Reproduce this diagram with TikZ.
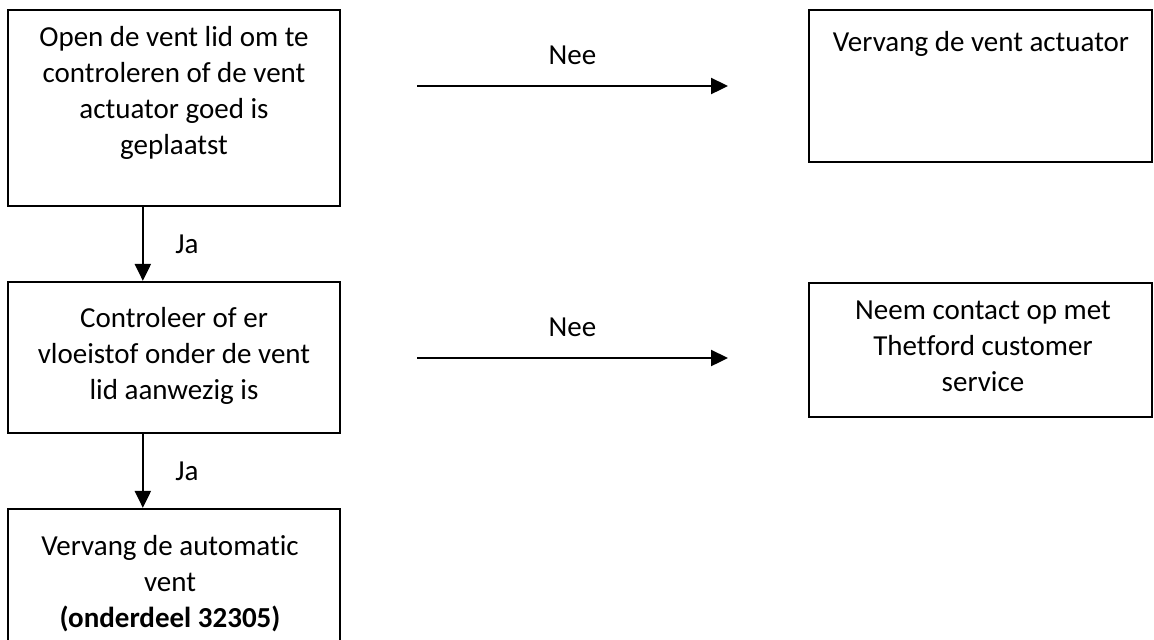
\documentclass[tikz,border=0pt]{standalone}
\usepackage{fontspec}
\setmainfont{Carlito}[Ligatures=NoCommon]
\usepackage{tikz}
\usetikzlibrary{arrows.meta}
\definecolor{ink}{HTML}{000000}
\tikzset{
  box/.style={draw=ink, line width=1.15pt, rectangle, inner sep=0pt},
  arr/.style={draw=ink, line width=1.15pt, -{Triangle[length=8.5pt,width=8pt]}},
  txt/.style={text=ink, align=center, inner sep=0pt, font=\fontsize{14.5}{18}\selectfont},
  lab/.style={text=ink, inner sep=0pt, font=\fontsize{14.5}{18}\selectfont},
}

\begin{document}
\begin{tikzpicture}[x=0.5pt,y=-0.5pt]
  \useasboundingbox (0,0) rectangle (1154,639);
  \clip (0,0) rectangle (1154,639);
  \node[box,minimum width=166pt,minimum height=98pt] (open) at (174,108) {};
  \node[box,minimum width=166pt,minimum height=75.5pt] (check) at (174,357.5) {};
  \node[box,minimum width=166pt,minimum height=80.5pt] (auto) at (174,589.5) {};
  \node[box,minimum width=171.5pt,minimum height=76pt] (actu) at (980.5,86) {};
  \node[box,minimum width=171.5pt,minimum height=67pt] (serv) at (980.5,350) {};
  \node[txt] (openTxt) at (174,93) {Open de vent lid om te\\controleren of de vent\\actuator goed is\\geplaatst};
  \node[txt] (checkTxt) at (174,356) {Controleer of er\\vloeistof onder de vent\\lid aanwezig is};
  \node[txt] (autoTxt) at (170,584) {Vervang de automatic\\vent\\\textbf{(onderdeel 32305)}};
  \node[txt] (actuTxt) at (981,44) {Vervang de vent actuator};
  \node[txt] (servTxt) at (983,346) {Neem contact op met\\Thetford customer\\service};
  \foreach \a/\b/\n in {open/check/ja1,check/auto/ja2}
    \draw[arr] ([xshift=68pt]\a.south west) -- ([xshift=68pt]\b.north west)
      node[lab,midway,xshift=22pt] (\n) {Ja};
  \foreach \y/\n in {86/nee1,358/nee2} {
    \coordinate (\n a) at (417,\y);
    \coordinate (\n b) at (728,\y);
    \draw[arr] (\n a) -- (\n b) node[lab,midway,yshift=15.5pt] (\n) {Nee};
  }
\end{tikzpicture}
\end{document}
